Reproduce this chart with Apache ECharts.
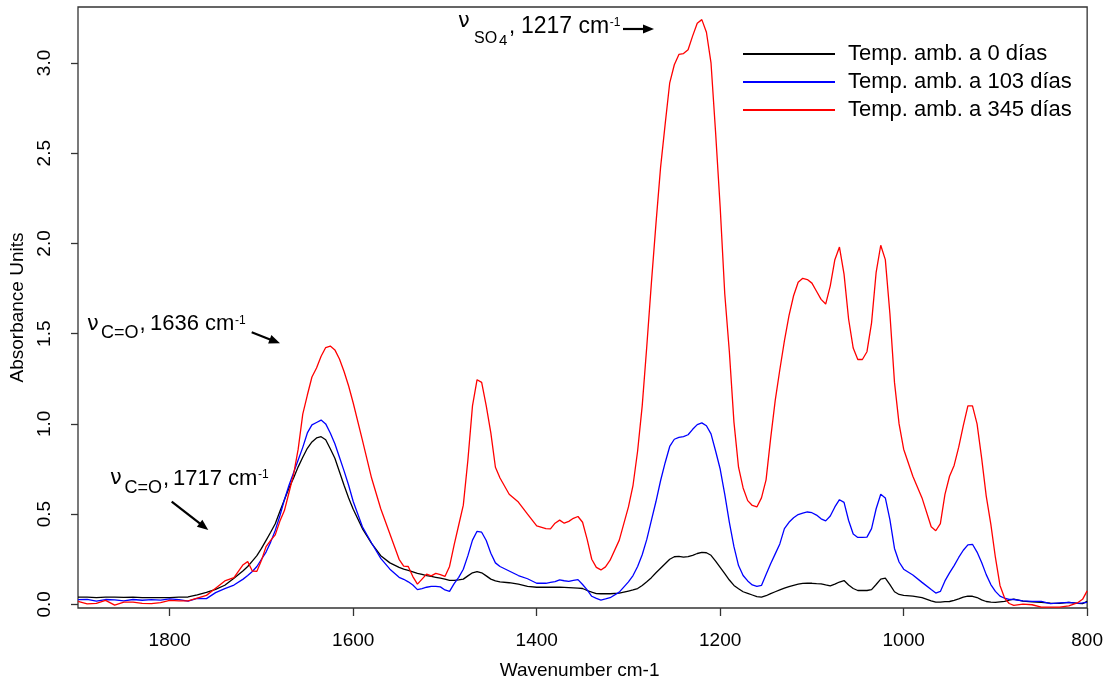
<!DOCTYPE html>
<html><head><meta charset="utf-8">
<script src="https://cdn.jsdelivr.net/npm/echarts@6/dist/echarts.min.js"></script>
<style>html,body{margin:0;padding:0;background:#fff}#c{width:1106px;height:685px}</style>
</head><body><div id="c"></div>
<script>
const wavenumbers = [
1900,1890,1880,1870,1860,1850,1840,1830,1820,1810,
1800,1790,1780,1770,1760,1750,1740,1730,1720,1715,
1710,1705,1700,1695,1690,1685,1680,1675,1670,1665,
1660,1655,1650,1645,1640,1635,1630,1625,1620,1615,
1610,1605,1600,1590,1580,1570,1560,1550,1545,1540,
1535,1530,1525,1520,1515,1510,1505,1500,1495,1490,
1485,1480,1475,1470,1465,1460,1455,1450,1445,1440,
1430,1420,1410,1400,1390,1385,1380,1375,1370,1365,
1360,1355,1350,1345,1340,1335,1330,1325,1320,1310,
1300,1295,1290,1285,1280,1275,1270,1265,1260,1255,
1250,1245,1240,1235,1230,1225,1220,1215,1210,1205,
1200,1195,1190,1185,1180,1175,1170,1165,1160,1155,
1150,1145,1140,1135,1130,1125,1120,1115,1110,1105,
1100,1095,1090,1085,1080,1075,1070,1065,1060,1055,
1050,1045,1040,1035,1030,1025,1020,1015,1010,1005,
1000,990,980,970,965,960,955,950,945,940,
935,930,925,920,915,910,905,900,895,890,
885,880,870,860,850,840,830,820,810,805,
800];

const abs0days = [
0.040,0.040,0.038,0.040,0.040,0.039,0.040,0.038,0.037,0.037,
0.038,0.040,0.041,0.053,0.066,0.083,0.106,0.145,0.186,0.210,
0.240,0.270,0.310,0.355,0.400,0.447,0.515,0.580,0.645,0.700,
0.762,0.815,0.865,0.900,0.922,0.929,0.912,0.862,0.810,0.735,
0.660,0.590,0.527,0.420,0.338,0.270,0.230,0.205,0.195,0.188,
0.180,0.172,0.166,0.160,0.155,0.150,0.145,0.140,0.133,0.133,
0.136,0.140,0.158,0.175,0.182,0.175,0.158,0.140,0.130,0.125,
0.120,0.112,0.100,0.095,0.095,0.095,0.095,0.095,0.094,0.093,
0.092,0.090,0.088,0.077,0.068,0.060,0.059,0.059,0.059,0.062,
0.074,0.080,0.088,0.105,0.126,0.148,0.175,0.200,0.225,0.250,
0.264,0.266,0.262,0.265,0.272,0.282,0.288,0.286,0.272,0.240,
0.205,0.170,0.135,0.105,0.087,0.070,0.061,0.052,0.043,0.040,
0.048,0.060,0.070,0.080,0.090,0.099,0.106,0.112,0.116,0.117,
0.117,0.115,0.114,0.108,0.103,0.112,0.124,0.132,0.107,0.088,
0.077,0.077,0.077,0.082,0.110,0.140,0.145,0.110,0.070,0.055,
0.050,0.046,0.037,0.020,0.012,0.012,0.015,0.016,0.022,0.030,
0.040,0.046,0.045,0.038,0.025,0.016,0.012,0.011,0.014,0.017,
0.024,0.029,0.018,0.014,0.011,0.007,0.006,0.011,0.006,0.004,
0.017];

const abs103days = [
0.026,0.028,0.018,0.027,0.025,0.020,0.027,0.023,0.026,0.024,
0.030,0.026,0.018,0.033,0.032,0.065,0.087,0.107,0.140,0.160,
0.182,0.210,0.250,0.290,0.345,0.410,0.490,0.580,0.660,0.730,
0.800,0.870,0.950,0.995,1.008,1.021,1.000,0.950,0.890,0.815,
0.740,0.660,0.570,0.430,0.340,0.255,0.195,0.150,0.139,0.125,
0.107,0.082,0.088,0.095,0.100,0.100,0.097,0.080,0.072,0.115,
0.150,0.195,0.270,0.356,0.405,0.400,0.354,0.283,0.230,0.210,
0.185,0.160,0.142,0.117,0.117,0.122,0.126,0.136,0.131,0.127,
0.133,0.137,0.110,0.080,0.045,0.033,0.024,0.030,0.037,0.068,
0.125,0.160,0.210,0.275,0.360,0.465,0.570,0.685,0.785,0.875,
0.915,0.925,0.930,0.940,0.970,0.996,1.006,0.990,0.945,0.850,
0.750,0.610,0.455,0.320,0.215,0.160,0.130,0.108,0.100,0.105,
0.165,0.225,0.280,0.335,0.420,0.455,0.480,0.498,0.506,0.512,
0.508,0.495,0.474,0.463,0.490,0.540,0.580,0.565,0.465,0.390,
0.371,0.371,0.373,0.420,0.530,0.610,0.590,0.470,0.310,0.235,
0.195,0.163,0.122,0.082,0.063,0.072,0.130,0.175,0.215,0.260,
0.300,0.330,0.333,0.290,0.232,0.165,0.110,0.072,0.046,0.034,
0.028,0.027,0.020,0.017,0.017,0.004,0.008,0.011,0.006,0.008,
0.011];

const abs345days = [
0.017,0.003,0.006,0.022,-0.004,0.012,0.013,0.006,0.004,0.010,
0.022,0.020,0.020,0.035,0.050,0.090,0.130,0.148,0.220,0.237,
0.185,0.183,0.245,0.320,0.355,0.385,0.460,0.520,0.620,0.720,
0.860,1.054,1.160,1.260,1.310,1.375,1.423,1.431,1.410,1.360,
1.290,1.210,1.116,0.910,0.700,0.530,0.390,0.250,0.212,0.210,
0.154,0.112,0.140,0.168,0.158,0.172,0.165,0.155,0.210,0.330,
0.440,0.550,0.800,1.100,1.245,1.230,1.100,0.950,0.760,0.700,
0.610,0.567,0.500,0.435,0.420,0.418,0.450,0.467,0.450,0.460,
0.477,0.487,0.455,0.360,0.250,0.205,0.191,0.208,0.245,0.356,
0.540,0.660,0.850,1.100,1.430,1.780,2.110,2.420,2.660,2.890,
2.990,3.047,3.052,3.073,3.150,3.220,3.240,3.170,3.000,2.615,
2.200,1.720,1.400,1.010,0.760,0.645,0.575,0.548,0.540,0.590,
0.690,0.920,1.130,1.300,1.460,1.600,1.710,1.785,1.807,1.800,
1.780,1.735,1.690,1.664,1.765,1.910,1.980,1.830,1.580,1.420,
1.357,1.357,1.400,1.560,1.840,1.990,1.910,1.610,1.230,1.000,
0.860,0.710,0.590,0.430,0.408,0.448,0.610,0.710,0.770,0.871,
0.990,1.100,1.100,1.000,0.810,0.600,0.445,0.260,0.105,0.035,
0.005,-0.005,0.002,-0.002,-0.015,-0.015,-0.015,-0.008,0.010,0.028,
0.075];

const xTickValues = [1800, 1600, 1400, 1200, 1000, 800];
const yTickValues = [0, 0.5, 1.0, 1.5, 2.0, 2.5, 3.0];
const seriesNames = ['Temp. amb. a 0 días', 'Temp. amb. a 103 días', 'Temp. amb. a 345 días'];
const seriesColors = ['#000000', '#0000ff', '#ff0000'];

const FONT = '"Liberation Sans", Arial, Helvetica, sans-serif';
const chart = echarts.init(document.getElementById('c'), null, {renderer: 'canvas'});

function pairs(ys) { return wavenumbers.map((w, i) => [w, ys[i]]); }

const measureCtx = document.createElement('canvas').getContext('2d');
function textWidth(s, f, fam) {
  measureCtx.font = f + 'px ' + (fam || FONT);
  return measureCtx.measureText(s).width;
}
function txt(x, base, s, f, fam) {
  return {
    type: 'text', x: x, y: base - 0.31 * f, silent: true,
    style: {text: s, fontSize: f, fontFamily: fam || 'Liberation Sans', fill: '#000',
      align: 'left', verticalAlign: 'middle', textAlign: 'left', textVerticalAlign: 'middle'}
  };
}
function arrow(x1, y1, x2, y2) {
  const a = Math.atan2(y2 - y1, x2 - x1), L = 11, W = 4.5;
  const bx = x2 - L * Math.cos(a), by = y2 - L * Math.sin(a);
  return [
    {type: 'line', silent: true, shape: {x1: x1, y1: y1, x2: bx + Math.cos(a), y2: by + Math.sin(a)},
      style: {stroke: '#000', lineWidth: 2.2}},
    {type: 'polygon', silent: true,
      shape: {points: [[x2, y2], [bx + W * Math.sin(a), by - W * Math.cos(a)], [bx - W * Math.sin(a), by + W * Math.cos(a)]]},
      style: {fill: '#000'}}
  ];
}
const NU_SIZE = 21;
function nuLabel(nuX, base, subX, subText, subSize, subDrop, mainX, mainText) {
  const els = [txt(nuX, base, 'ν', NU_SIZE, 'DejaVu Sans')];
  els.push(txt(subX, base + subDrop, subText, subSize));
  const commaX = subX + textWidth(subText, subSize);
  els.push(txt(commaX + 1, base, ',', 22));
  els.push(txt(mainX, base, mainText, 22));
  const supX = mainX + textWidth(mainText, 22) + 0.5;
  els.push(txt(supX, base - 7, '-1', 12));
  return els;
}

const annotations = [].concat(
  [txt(458, 28.5, 'ν', NU_SIZE, 'DejaVu Sans'), txt(474, 43.5, 'SO', 16), txt(499, 45.5, '4', 15),
   txt(509, 33.3, ',', 22), txt(521, 33.3, '1217 cm', 23), txt(521 + textWidth('1217 cm', 23) + 0.5, 26.7, '-1', 12)],
  arrow(623, 29, 654, 29),
  nuLabel(87, 331, 101, 'C=O', 18, 8, 150, '1636 cm'),
  arrow(251.7, 332.3, 280, 343.3),
  nuLabel(110, 485.5, 124.5, 'C=O', 18, 8, 173, '1717 cm'),
  arrow(171.7, 501.7, 208.3, 530)
);

const allSeries = [abs0days, abs103days, abs345days].map((ys, i) => ({
  name: seriesNames[i], type: 'line', data: pairs(ys), symbol: 'none', showSymbol: false,
  lineStyle: {color: seriesColors[i], width: 1.3}, itemStyle: {color: seriesColors[i]},
  clip: true, silent: true
}));

chart.setOption({
  animation: false,
  backgroundColor: '#fff',
  textStyle: {fontFamily: FONT},
  grid: {left: 78, right: 16, top: 7, bottom: 73, show: true, borderColor: '#333', borderWidth: 1.3, backgroundColor: 'transparent'},
  legend: {
    orient: 'vertical', left: 738, top: 35, itemWidth: 92, itemHeight: 2, itemGap: 0,
    icon: 'rect', selectedMode: false,
    textStyle: {fontSize: 22, fontFamily: FONT, color: '#000', lineHeight: 28, padding: [0, 0, 0, 8]},
    data: seriesNames
  },
  xAxis: {
    type: 'value', min: 800, max: 1900, inverse: true,
    name: 'Wavenumber cm-1', nameLocation: 'middle', nameGap: 53,
    nameTextStyle: {fontSize: 19, color: '#000', fontFamily: FONT, padding: [0, 6, 0, 0]},
    axisLine: {show: false, onZero: false},
    axisTick: {show: true, length: 8, customValues: xTickValues, lineStyle: {color: '#333', width: 1.3}},
    axisLabel: {fontSize: 19, color: '#000', margin: 23, customValues: xTickValues, fontFamily: FONT,
      formatter: v => String(Math.round(v))},
    splitLine: {show: false}
  },
  yAxis: {
    type: 'value', min: -0.02, max: 3.31,
    name: 'Absorbance Units', nameLocation: 'middle', nameGap: 48, nameRotate: 90,
    nameTextStyle: {fontSize: 19, color: '#000', fontFamily: FONT},
    axisLine: {show: false, onZero: false},
    axisTick: {show: true, length: 7, customValues: yTickValues, lineStyle: {color: '#333', width: 1.3}},
    axisLabel: {fontSize: 19, color: '#000', margin: 24, rotate: 90, customValues: yTickValues,
      fontFamily: FONT, formatter: v => Number(v).toFixed(1)},
    splitLine: {show: false}
  },
  series: allSeries,
  graphic: {elements: annotations}
});
</script></body></html>
